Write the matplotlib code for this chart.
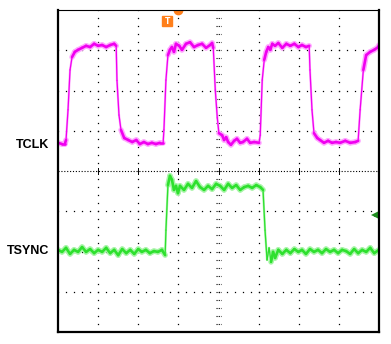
import matplotlib
matplotlib.use("Agg")
import matplotlib.pyplot as plt
from matplotlib.collections import LineCollection
import numpy as np

# time in divisions (0..8), amplitude in divisions from screen centre (-4..4)
tclk_t = [0.00, 0.10, 0.17, 0.20, 0.25, 0.30, 0.35, 0.42, 0.50, 0.60, 0.70, 0.80,
          0.90, 1.00, 1.10, 1.20, 1.30, 1.40, 1.45, 1.47, 1.52, 1.57, 1.65, 1.75,
          1.85, 1.95, 2.04, 2.14, 2.24, 2.34, 2.44, 2.54, 2.62, 2.64, 2.69, 2.74,
          2.79, 2.84, 2.89, 2.94, 3.02, 3.09, 3.19, 3.29, 3.39, 3.49, 3.59, 3.69,
          3.79, 3.84, 3.87, 3.92, 3.97, 4.01, 4.09, 4.14, 4.19, 4.24, 4.31, 4.39,
          4.46, 4.54, 4.61, 4.71, 4.79, 4.89, 5.01, 5.04, 5.09, 5.14, 5.19, 5.24,
          5.29, 5.34, 5.41, 5.49, 5.59, 5.69, 5.79, 5.89, 5.99, 6.08, 6.18, 6.26,
          6.28, 6.33, 6.38, 6.46, 6.53, 6.63, 6.73, 6.83, 6.93, 7.03, 7.16, 7.28,
          7.41, 7.48, 7.53, 7.61, 7.68, 7.78, 7.88, 7.98, 8.00]
tclk_v = [0.70, 0.67, 0.67, 0.77, 1.52, 2.51, 2.83, 2.96, 3.01, 3.06, 3.11, 3.08,
          3.16, 3.11, 3.13, 3.08, 3.13, 3.16, 3.11, 2.25, 1.39, 1.02, 0.82, 0.77,
          0.72, 0.77, 0.67, 0.72, 0.67, 0.70, 0.67, 0.70, 0.70, 1.02, 2.26, 2.88,
          3.01, 3.08, 2.96, 3.16, 3.11, 3.01, 3.16, 3.20, 3.08, 3.13, 3.16, 3.06,
          3.13, 3.18, 3.06, 2.01, 1.32, 0.94, 0.89, 0.77, 0.84, 0.72, 0.65, 0.75,
          0.80, 0.70, 0.72, 0.80, 0.70, 0.72, 0.70, 0.89, 2.26, 2.76, 2.96, 3.08,
          3.01, 3.16, 3.11, 3.18, 3.06, 3.16, 3.11, 3.16, 3.08, 3.13, 3.08, 3.11,
          2.51, 1.52, 0.94, 0.82, 0.77, 0.70, 0.75, 0.70, 0.72, 0.70, 0.75, 0.70,
          0.72, 0.75, 1.52, 2.51, 2.88, 2.96, 3.01, 3.08, 3.13]

tsync_t = [0.00, 0.10, 0.20, 0.30, 0.40, 0.50, 0.60, 0.70, 0.80, 0.90, 1.00, 1.10,
           1.20, 1.30, 1.40, 1.50, 1.60, 1.70, 1.80, 1.90, 2.00, 2.09, 2.19, 2.29,
           2.39, 2.49, 2.59, 2.67, 2.69, 2.74, 2.79, 2.84, 2.89, 2.94, 2.99, 3.04,
           3.14, 3.24, 3.34, 3.44, 3.54, 3.64, 3.74, 3.84, 3.94, 4.04, 4.14, 4.24,
           4.34, 4.44, 4.54, 4.64, 4.74, 4.84, 4.94, 5.04, 5.11, 5.16, 5.21, 5.26,
           5.31, 5.36, 5.41, 5.49, 5.59, 5.69, 5.79, 5.89, 5.99, 6.08, 6.18, 6.28,
           6.38, 6.48, 6.58, 6.68, 6.78, 6.88, 6.98, 7.08, 7.18, 7.28, 7.38, 7.48,
           7.58, 7.68, 7.78, 7.88, 8.00]
tsync_v = [-1.96, -2.01, -1.91, -2.06, -1.96, -2.01, -1.89, -2.01, -1.94, -2.04, -1.96, -2.01,
           -1.91, -2.04, -1.96, -2.09, -1.94, -2.04, -1.96, -2.06, -1.94, -2.01, -1.96, -2.04,
           -1.99, -2.01, -1.96, -2.09, -1.47, -0.35, -0.12, -0.22, -0.47, -0.37, -0.55, -0.37,
           -0.47, -0.32, -0.42, -0.25, -0.40, -0.47, -0.37, -0.45, -0.32, -0.37, -0.47, -0.32,
           -0.42, -0.35, -0.47, -0.40, -0.37, -0.42, -0.35, -0.40, -0.47, -1.47, -2.21, -1.91,
           -2.26, -2.01, -2.16, -1.96, -2.06, -1.96, -2.04, -1.94, -2.01, -1.96, -2.06, -1.94,
           -2.01, -1.96, -2.04, -1.94, -2.01, -1.96, -2.04, -1.96, -1.99, -2.06, -1.94, -2.04,
           -1.96, -2.01, -1.91, -2.04, -1.96]

labels = ["TCLK", "TSYNC"]
label_levels = [0.65, -1.99]
trig_pos = 2.99
trig_level = -1.09


def trace(ax, t, v, core, halo):
    # fast edges draw thin and faint, flat parts thick like a phosphor trace
    pts = np.column_stack([t, v])
    segs = np.stack([pts[:-1], pts[1:]], axis=1)
    slope = np.abs(np.diff(v)) / np.maximum(np.diff(t), 1e-3)
    steep = slope > 6
    lw_halo = np.where(steep, 1.6, 4.0)
    lw_core = np.where(steep, 0.9, 1.9)
    ax.add_collection(LineCollection(segs, colors=halo, linewidths=lw_halo, capstyle="round"))
    ax.add_collection(LineCollection(segs, colors=core, linewidths=lw_core, capstyle="round"))


fig = plt.figure(figsize=(3.91, 3.44), dpi=100)
ax = fig.add_axes([58/391, 12/344, 321/391, 322/344])
ax.set_xlim(0, 8)
ax.set_ylim(-4, 4)
ax.set_xticks([])
ax.set_yticks([])
for side, s in ax.spines.items():
    s.set_color("black")
    s.set_linewidth(0.8 if side == "top" else 1.6)

# graticule: dotted grid lines
dots = np.arange(0, 8.01, 0.2)
for g in range(1, 8):
    if g == 4:
        continue
    ax.plot([g] * len(dots), dots - 4, ls="none", marker="s", ms=0.9, color="black", mew=0)
    ax.plot(dots, [g - 4] * len(dots), ls="none", marker="s", ms=0.9, color="black", mew=0)
# centre cross
ax.plot([0, 8], [0, 0], color="black", lw=0.8, ls=(0, (1, 1.6)))
for d in dots:
    ax.plot([4 - 0.07, 4 + 0.07], [d - 4, d - 4], color="black", lw=0.8, ls=(0, (1, 1)))
for g in range(1, 8):
    ax.plot([g, g], [-0.07, 0.07], color="black", lw=0.7)

# traces
trace(ax, tclk_t, tclk_v, "#f000f0", "#ffa8ff")
trace(ax, tsync_t, tsync_v, "#2ee02e", "#a8f5a8")

# channel labels
for name, lev in zip(labels, label_levels):
    ax.text(-0.22, lev, name, ha="right", va="center", fontsize=9, fontweight="bold",
            family="Liberation Sans", clip_on=False)

# trigger markers
ax.plot(trig_pos, 4.0, marker="o", ms=6, color="#ff7f1a", clip_on=True)
ax.plot(2.72, 3.73, marker="s", ms=7.5, color="#ff7f1a", clip_on=False)
ax.text(2.72, 3.72, "T", color="white", fontsize=5.5, fontweight="bold", ha="center", va="center")
ax.plot(7.9, trig_level, marker="<", ms=6, color="#1e8c1e", mew=0)
ax.plot([7.9, 8.0], [trig_level, trig_level], color="#1e8c1e", lw=2)

fig.savefig("out.png", dpi=100)
